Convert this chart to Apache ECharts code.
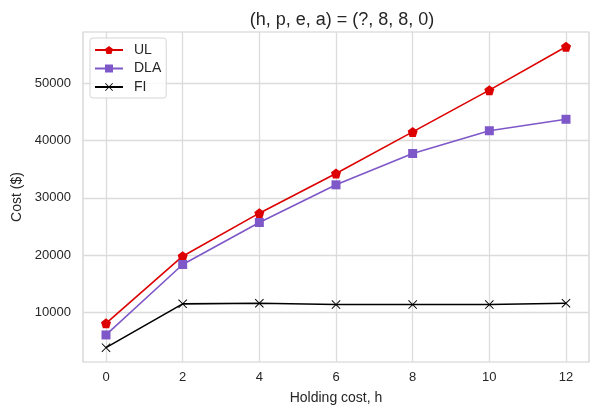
<!DOCTYPE html>
<html><head><meta charset="utf-8">
<script src="https://cdn.jsdelivr.net/npm/echarts@6/dist/echarts.min.js"></script>
<style>html,body{margin:0;padding:0;background:#fff}#c{width:591px;height:413px}</style>
</head><body><div id="c"></div>
<script>
const hValues = [0, 2, 4, 6, 8, 10, 12];
const ulCost  = [8130, 19830, 27330, 34260, 41500, 48780, 56350];
const dlaCost = [6100, 18380, 25700, 32270, 37730, 41700, 43700];
const fiCost  = [3890, 11520, 11620, 11400, 11400, 11400, 11620];
const xTicks = [0, 2, 4, 6, 8, 10, 12];
const yTicks = [10000, 20000, 30000, 40000, 50000];

const pentagon = 'path://M0,-1 L0.951,-0.309 L0.588,0.809 L-0.588,0.809 L-0.951,-0.309 Z';
const cross = 'path://M-1,-0.85 L-0.85,-1 L0,-0.15 L0.85,-1 L1,-0.85 L0.15,0 L1,0.85 L0.85,1 L0,0.15 L-0.85,1 L-1,0.85 L-0.15,0 Z';
const font = 'Liberation Sans, Arial, sans-serif';
const txt = '#262626';

function pairs(ys){ return hValues.map((h,i)=>[h, ys[i]]); }

const chart = echarts.init(document.getElementById('c'), null, {renderer:'canvas'});
chart.setOption({
  animation:false,
  backgroundColor:'#fff',
  title:{text:'(h, p, e, a) = (?, 8, 8, 0)', left:337, textAlign:'center', top:6,
    textStyle:{fontFamily:font, fontSize:18, fontWeight:'normal', color:txt}},
  grid:{left:83, right:2, top:32, bottom:51, show:true, borderColor:'#cfcfcf', borderWidth:1.2},
  legend:{left:90, top:38, orient:'vertical', itemWidth:28, itemHeight:10, itemGap:0.5,
    padding:[3,5,2,4], borderColor:'#d5d5d5', borderWidth:1, borderRadius:3, backgroundColor:'rgba(255,255,255,0.85)',
    textStyle:{fontFamily:font, fontSize:14, lineHeight:18, color:txt, padding:[0,0,0,6]},
    data:['UL','DLA','FI']},
  xAxis:{type:'value', min:-0.6, max:12.6,
    name:'Holding cost, h', nameLocation:'middle', nameGap:29,
    nameTextStyle:{fontFamily:font, fontSize:14, color:txt},
    axisLine:{show:false}, axisTick:{show:false, customValues:xTicks},
    axisLabel:{customValues:xTicks, fontFamily:font, fontSize:13, color:txt, margin:9},
    splitLine:{show:true, customValues:xTicks, lineStyle:{color:'#dcdcdc', width:1.3}}},
  yAxis:{type:'value', min:1385, max:58915,
    name:'Cost ($)', nameLocation:'middle', nameGap:57,
    nameTextStyle:{fontFamily:font, fontSize:14, color:txt},
    axisLine:{show:false}, axisTick:{show:false, customValues:yTicks},
    axisLabel:{customValues:yTicks, fontFamily:font, fontSize:13, color:txt, margin:12,
      formatter:v=>String(v)},
    splitLine:{show:true, customValues:yTicks, lineStyle:{color:'#dcdcdc', width:1.3}}},
  series:[
    {name:'UL', type:'line', data:pairs(ulCost), symbol:pentagon, symbolSize:10,
      lineStyle:{color:'#dd0000', width:1.6}, itemStyle:{color:'#dd0000'}, color:'#dd0000'},
    {name:'DLA', type:'line', data:pairs(dlaCost), symbol:'rect', symbolSize:9,
      lineStyle:{color:'#7e57c8', width:1.6}, itemStyle:{color:'#7e57c8'}, color:'#7e57c8'},
    {name:'FI', type:'line', data:pairs(fiCost), symbol:cross, symbolSize:9,
      lineStyle:{color:'#000', width:1.6}, itemStyle:{color:'#000'}, color:'#000'}
  ]
});
</script></body></html>
